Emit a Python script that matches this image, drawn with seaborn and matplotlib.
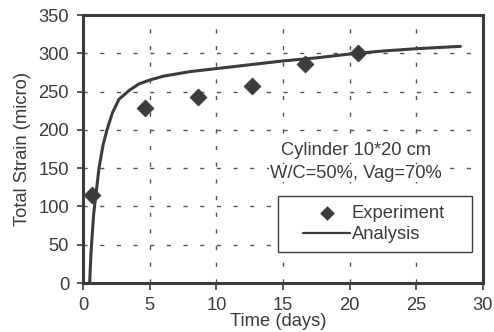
import matplotlib
matplotlib.use("Agg")
import matplotlib.pyplot as plt
from matplotlib.patches import Rectangle
import seaborn as sns
import pandas as pd

exp_time = [0.65, 4.65, 8.65, 12.7, 16.65, 20.65]
exp_strain = [115, 228, 243, 257, 286, 300]

ana_time = [0.5, 0.6, 0.8, 1.0, 1.2, 1.5, 1.8, 2.2, 2.7, 3.5, 4.2, 5, 6, 8, 10, 12.5, 15, 17.5, 20, 22.5, 25, 28.3]
ana_strain = [0, 40, 90, 120, 150, 180, 200, 222, 240, 252, 260, 265, 270, 276, 280, 285, 290, 294, 299, 303, 306, 309]

xticks = [0, 5, 10, 15, 20, 25, 30]
yticks = [0, 50, 100, 150, 200, 250, 300, 350]

sns.set_theme(style="white")
plt.rcParams['font.family'] = ['Liberation Sans', 'DejaVu Sans']

C = "#3c3c3c"
FS = 13.2
fig = plt.figure(figsize=(4.94, 3.32), dpi=100)
ax = fig.add_axes([83/494, 1 - 283/332, 400/494, 268/332])

df_exp = pd.DataFrame({"t": exp_time, "s": exp_strain})
df_ana = pd.DataFrame({"t": ana_time, "s": ana_strain})

sns.lineplot(data=df_ana, x="t", y="s", ax=ax, color=C, lw=2.2, label="Analysis", zorder=3)
sns.scatterplot(data=df_exp, x="t", y="s", ax=ax, color=C, marker="D", s=75,
                edgecolor=C, linewidth=0.5, label="Experiment", zorder=4)

ax.set_xlim(0, 30)
ax.set_ylim(0, 350)
ax.set_xticks(xticks)
ax.set_yticks(yticks)
ax.tick_params(axis="x", labelsize=FS, colors=C, direction="out", length=5, width=1.2, pad=5, bottom=True)
ax.tick_params(axis="y", labelsize=FS, colors=C, direction="out", length=4, width=1.2, pad=6, left=True)
ax.grid(True, color="#555555", linestyle=(0, (3, 9)), linewidth=1.0)
for sp in ax.spines.values():
    sp.set_color(C)
    sp.set_linewidth(2.2)

ax.set_xlabel("Time (days)", fontsize=FS, color=C)
ax.xaxis.set_label_coords(0.4875, -0.176)
ax.xaxis.label.set_verticalalignment("bottom")
ax.set_ylabel("Total Strain (micro)", fontsize=FS, color=C)
ax.yaxis.set_label_coords(-0.13, 0.5)

tb = dict(facecolor="white", edgecolor="none", pad=0.5)
ax.text(20.45, 173.6, "Cylinder 10*20 cm", ha="center", va="center", fontsize=FS, color=C, bbox=tb, zorder=5)
ax.text(20.45, 143.6, "W/C=50%, Vag=70%", ha="center", va="center", fontsize=FS, color=C, bbox=tb, zorder=5)

ax.add_patch(Rectangle((0.487, 0.116), 0.485, 0.209, transform=ax.transAxes,
                       facecolor="white", edgecolor=C, linewidth=1.0, zorder=5))

h, l = ax.get_legend_handles_labels()
order = [l.index("Experiment"), l.index("Analysis")]
leg = ax.legend([h[i] for i in order], [l[i] for i in order], loc="center left",
                bbox_to_anchor=(0.55, 0.220), fontsize=FS, frameon=False,
                handlelength=2.57, borderpad=0, borderaxespad=0,
                labelspacing=0.25, handletextpad=0.1, markerscale=0.8)
leg.set_zorder(6)
for t in leg.get_texts():
    t.set_color(C)
for lh in leg.get_lines():
    lh.set_linewidth(1.6)

fig.savefig("out.png", dpi=100)
